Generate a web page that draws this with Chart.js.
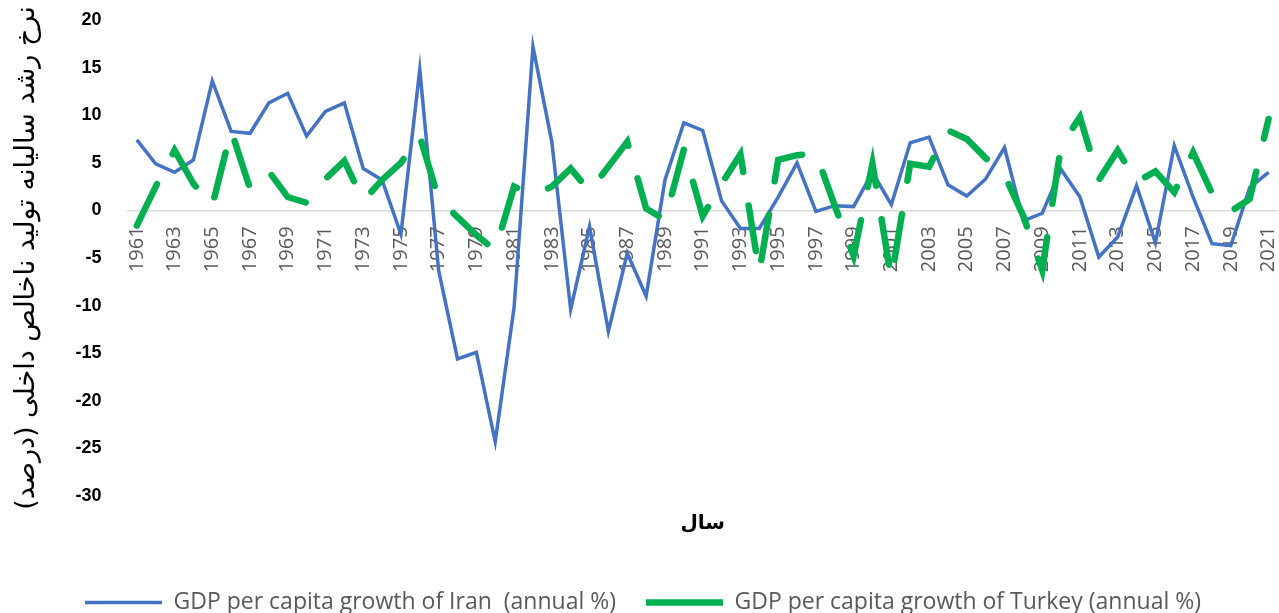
<!DOCTYPE html>
<html>
<head>
<meta charset="utf-8">
<script src="https://cdn.jsdelivr.net/npm/chart.js@4.4.1/dist/chart.umd.min.js"></script>
<style>
    html, body { margin: 0; padding: 0; background: #fff; }
</style>
</head>
<body>
<canvas id="gdp-chart" width="1279" height="613"></canvas>
<script>
// سال‌ها
const years = [
    '1961', '1962', '1963', '1964', '1965', '1966', '1967', '1968', '1969', '1970',
    '1971', '1972', '1973', '1974', '1975', '1976', '1977', '1978', '1979', '1980',
    '1981', '1982', '1983', '1984', '1985', '1986', '1987', '1988', '1989', '1990',
    '1991', '1992', '1993', '1994', '1995', '1996', '1997', '1998', '1999', '2000',
    '2001', '2002', '2003', '2004', '2005', '2006', '2007', '2008', '2009', '2010',
    '2011', '2012', '2013', '2014', '2015', '2016', '2017', '2018', '2019', '2020',
    '2021'
];

// GDP per capita growth (annual %)
const iranGrowth = [
    7.4, 4.9, 4.0, 5.3, 13.6, 8.3, 8.1, 11.3, 12.3, 7.8,
    10.4, 11.3, 4.4, 3.2, -2.5, 14.8, -6.3, -15.6, -14.9, -24.3,
    -10.2, 17.2, 7.2, -10.4, -1.7, -12.7, -4.5, -9.0, 3.2, 9.2,
    8.4, 1.0, -1.9, -1.9, 1.4, 5.0, -0.1, 0.5, 0.4, 4.0,
    0.6, 7.1, 7.7, 2.7, 1.5, 3.3, 6.6, -1.1, -0.3, 4.3,
    1.4, -4.9, -2.8, 2.6, -3.4, 6.8, 1.4, -3.5, -3.7, 2.4,
    4.0
];

const turkeyGrowth = [
    -1.6, 2.5, 6.3, 2.8, 0.5, 8.4, 2.3, 4.1, 1.4, 0.8,
    3.3, 5.2, 1.0, 3.2, 5.0, 7.8, 1.2, -0.7, -2.6, -4.2,
    2.5, 1.6, 2.5, 4.4, 2.0, 4.6, 7.2, 0.2, -1.0, 6.4,
    -0.6, 2.8, 5.9, -6.5, 5.3, 5.8, 6.0, 0.5, -4.8, 4.9,
    -7.2, 4.9, 4.6, 8.4, 7.5, 5.5, 3.7, -0.6, -6.3, 6.8,
    9.8, 3.2, 6.3, 3.0, 4.1, 1.9, 6.1, 1.8, -0.1, 1.2,
    9.6
];

const yMin = -30;
const yMax = 20;
const yStep = 5;

const yTitle = 'نرخ رشد سالیانه تولید ناخالص داخلی (درصد)';
const xTitle = 'سال';

const canvas = document.getElementById('gdp-chart');

new Chart(canvas, {
    type: 'line',
    data: {
        labels: years,
        datasets: [{
            label: 'GDP per capita growth of Iran  (annual %)',
            data: iranGrowth,
            borderColor: '#4472C4',
            backgroundColor: '#4472C4',
            borderWidth: 3.5,
            pointRadius: 0,
            tension: 0,
            order: 1
        }, {
            label: 'GDP per capita growth of Turkey (annual %)',
            data: turkeyGrowth,
            borderColor: '#00B050',
            backgroundColor: '#00B050',
            borderWidth: 6.5,
            borderDash: [46, 34],
            borderCapStyle: 'round',
            pointRadius: 0,
            tension: 0,
            order: 0
        }]
    },
    options: {
        responsive: false,
        animation: false,
        devicePixelRatio: 1,
        layout: { padding: { left: 8, right: 1, top: 20, bottom: -11 } },
        scales: {
            x: {
                type: 'category',
                offset: true,
                position: { y: 0 },
                grid: { display: false, drawTicks: false },
                border: { display: false },
                ticks: {
                    autoSkip: false,
                    minRotation: 90,
                    maxRotation: 90,
                    padding: 16,
                    color: '#595959',
                    font: { family: 'Open Sans', size: 20 },
                    callback: function (value, index) {
                        return index % 2 === 0 ? this.getLabelForValue(value) : '';
                    }
                },
                afterFit: (scale) => {
                    // labels sit on the zero line, so take no room at the bottom
                    scale.height = 0;
                    scale.paddingLeft = 0;
                    scale.paddingRight = 0;
                }
            },
            y: {
                min: yMin,
                max: yMax,
                border: { display: false },
                grid: {
                    drawTicks: false,
                    lineWidth: 1.5,
                    color: (c) => c.tick && c.tick.value === 0 ? '#D9D9D9' : 'rgba(0,0,0,0)'
                },
                ticks: {
                    stepSize: yStep,
                    padding: 26,
                    color: '#000',
                    font: { family: 'Liberation Sans', size: 18, weight: 'bold' }
                },
                title: {
                    display: true,
                    text: yTitle,
                    color: '#000',
                    font: { family: 'DejaVu Sans', size: 27 },
                    padding: { top: 3, bottom: 6 }
                },
                afterFit: (scale) => {
                    // tick padding is horizontal only here
                    scale.paddingTop = 0;
                    scale.paddingBottom = 0;
                }
            }
        },
        plugins: {
            tooltip: { enabled: false },
            title: {
                display: true,
                position: 'bottom',
                text: xTitle,
                fullSize: false,
                weight: 500,
                color: '#000',
                font: { family: 'DejaVu Sans', size: 20, weight: 'bold' },
                padding: { top: 16, bottom: 25 }
            },
            legend: {
                position: 'bottom',
                labels: {
                    usePointStyle: true,
                    pointStyle: 'line',
                    pointStyleWidth: 77,
                    padding: 30,
                    color: '#595959',
                    font: { family: 'Open Sans', size: 23 },
                    sort: (a, b) => a.datasetIndex - b.datasetIndex
                }
            }
        }
    }
});
</script>
</body>
</html>
